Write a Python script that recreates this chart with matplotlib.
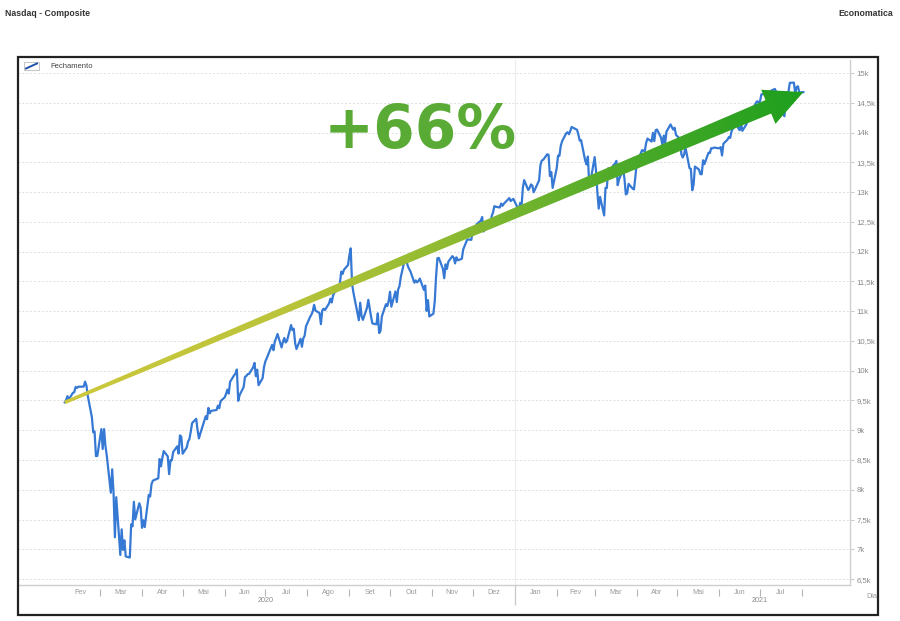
import numpy as np
import pandas as pd
import matplotlib
matplotlib.use("Agg")
import matplotlib.pyplot as plt
import matplotlib.dates as mdates
from matplotlib.colors import LinearSegmentedColormap
from matplotlib.patches import Polygon, Rectangle
from matplotlib.transforms import blended_transform_factory

# Nasdaq Composite - fechamento diario
pregoes_2020 = [
    "02-04", "02-05", "02-06", "02-07", "02-10", "02-11", "02-12", "02-13", "02-14", "02-18",
    "02-19", "02-20", "02-21", "02-24", "02-25", "02-26", "02-27", "02-28",
    "03-02", "03-03", "03-04", "03-05", "03-06", "03-09", "03-10", "03-11", "03-12", "03-13",
    "03-16", "03-17", "03-18", "03-19", "03-20", "03-23", "03-24", "03-25", "03-26", "03-27",
    "03-30", "03-31",
    "04-01", "04-02", "04-03", "04-06", "04-07", "04-08", "04-09", "04-13", "04-14", "04-15",
    "04-16", "04-17", "04-20", "04-21", "04-22", "04-23", "04-24", "04-27", "04-28", "04-29",
    "04-30",
    "05-01", "05-04", "05-05", "05-06", "05-07", "05-08", "05-11", "05-12", "05-13", "05-14",
    "05-15", "05-18", "05-19", "05-20", "05-21", "05-22", "05-26", "05-27", "05-28", "05-29",
    "06-01", "06-02", "06-03", "06-04", "06-05", "06-08", "06-09", "06-10", "06-11", "06-12",
    "06-15", "06-16", "06-17", "06-18", "06-19", "06-22", "06-23", "06-24", "06-25", "06-26",
    "06-29", "06-30",
    "07-01", "07-02", "07-06", "07-07", "07-08", "07-09", "07-10", "07-13", "07-14", "07-15",
    "07-16", "07-17", "07-20", "07-21", "07-22", "07-23", "07-24", "07-27", "07-28", "07-29",
    "07-30", "07-31",
    "08-03", "08-04", "08-05", "08-06", "08-07", "08-10", "08-11", "08-12", "08-13", "08-14",
    "08-17", "08-18", "08-19", "08-20", "08-21", "08-24", "08-25", "08-26", "08-27", "08-28",
    "08-31",
    "09-01", "09-02", "09-03", "09-04", "09-08", "09-09", "09-10", "09-11", "09-14", "09-15",
    "09-16", "09-17", "09-18", "09-21", "09-22", "09-23", "09-24", "09-25", "09-28", "09-29",
    "09-30",
    "10-01", "10-02", "10-05", "10-06", "10-07", "10-08", "10-09", "10-12", "10-13", "10-14",
    "10-15", "10-16", "10-19", "10-20", "10-21", "10-22", "10-23", "10-26", "10-27", "10-28",
    "10-29", "10-30",
    "11-02", "11-03", "11-04", "11-05", "11-06", "11-09", "11-10", "11-11", "11-12", "11-13",
    "11-16", "11-17", "11-18", "11-19", "11-20", "11-23", "11-24", "11-25", "11-27", "11-30",
    "12-01", "12-02", "12-03", "12-04", "12-07", "12-08", "12-09", "12-10", "12-11", "12-14",
    "12-15", "12-16", "12-17", "12-18", "12-21", "12-22", "12-23", "12-24", "12-28", "12-29",
    "12-30", "12-31",
]
fech_2020 = [
    9467, 9509, 9572, 9520, 9628, 9639, 9726, 9712, 9731, 9733,
    9817, 9751, 9577, 9221, 8966, 8981, 8566, 8567,
    9019, 8685, 9019, 8738, 8576, 7950, 8344, 7953, 7201, 7875,
    6905, 7335, 6990, 7151, 6880, 6861, 7418, 7385, 7798, 7502,
    7774, 7700,
    7361, 7487, 7373, 7913, 7887, 8091, 8153, 8193, 8516, 8393,
    8533, 8650, 8561, 8263, 8495, 8495, 8634, 8730, 8608, 8914,
    8890,
    8605, 8710, 8810, 8854, 8980, 9121, 9192, 9002, 8863, 8944,
    9015, 9235, 9185, 9375, 9285, 9325, 9340, 9413, 9369, 9490,
    9552, 9609, 9683, 9616, 9814, 9925, 9953, 10020, 9493, 9589,
    9726, 9896, 9911, 9943, 9946, 10056, 10131, 9909, 10017, 9757,
    9875, 10059,
    10155, 10208, 10434, 10344, 10492, 10548, 10617, 10391, 10488, 10550,
    10474, 10503, 10767, 10681, 10706, 10462, 10364, 10537, 10402, 10543,
    10588, 10745,
    10903, 10941, 10998, 11108, 11011, 10968, 10782, 11012, 11042, 11019,
    11129, 11210, 11147, 11265, 11312, 11380, 11466, 11665, 11625, 11696,
    11775,
    11939, 12056, 11458, 11313, 10848, 11142, 10920, 10854, 11056, 11191,
    11050, 10910, 10794, 10779, 10964, 10633, 10672, 10914, 11118, 11086,
    11168,
    11326, 11076, 11332, 11154, 11365, 11421, 11580, 11876, 11863, 11768,
    11714, 11672, 11479, 11517, 11485, 11506, 11548, 11358, 11431, 11005,
    11186, 10912,
    10958, 11161, 11590, 11890, 11895, 11714, 11554, 11787, 11710, 11830,
    11925, 11900, 11802, 11905, 11855, 11881, 12037, 12094, 12206, 12199,
    12355, 12349, 12377, 12464, 12520, 12583, 12339, 12406, 12378, 12441,
    12595, 12658, 12765, 12756, 12742, 12808, 12771, 12805, 12900, 12851,
    12870, 12888,
]
pregoes_2021 = [
    "01-04", "01-05", "01-06", "01-07", "01-08", "01-11", "01-12", "01-13", "01-14", "01-15",
    "01-19", "01-20", "01-21", "01-22", "01-25", "01-26", "01-27", "01-28", "01-29",
    "02-01", "02-02", "02-03", "02-04", "02-05", "02-08", "02-09", "02-10", "02-11", "02-12",
    "02-16", "02-17", "02-18", "02-19", "02-22", "02-23", "02-24", "02-25", "02-26",
    "03-01", "03-02", "03-03", "03-04", "03-05", "03-08", "03-09", "03-10", "03-11", "03-12",
    "03-15", "03-16", "03-17", "03-18", "03-19", "03-22", "03-23", "03-24", "03-25", "03-26",
    "03-29", "03-30", "03-31",
    "04-01", "04-05", "04-06", "04-07", "04-08", "04-09", "04-12", "04-13", "04-14", "04-15",
    "04-16", "04-19", "04-20", "04-21", "04-22", "04-23", "04-26", "04-27", "04-28", "04-29",
    "04-30",
    "05-03", "05-04", "05-05", "05-06", "05-07", "05-10", "05-11", "05-12", "05-13", "05-14",
    "05-17", "05-18", "05-19", "05-20", "05-21", "05-24", "05-25", "05-26", "05-27", "05-28",
    "06-01", "06-02", "06-03", "06-04", "06-07", "06-08", "06-09", "06-10", "06-11", "06-14",
    "06-15", "06-16", "06-17", "06-18", "06-21", "06-22", "06-23", "06-24", "06-25", "06-28",
    "06-29", "06-30",
    "07-01", "07-02", "07-06", "07-07", "07-08", "07-09", "07-12", "07-13", "07-14", "07-15",
    "07-16", "07-19", "07-20", "07-21", "07-22", "07-23", "07-26", "07-27", "07-28", "07-29",
    "07-30", "08-02",
]
fech_2021 = [
    12698, 12819, 12741, 13067, 13202, 13036, 13072, 13129, 13112, 12999,
    13197, 13457, 13530, 13543, 13636, 13626, 13271, 13337, 13071,
    13403, 13612, 13610, 13778, 13856, 13988, 14007, 13973, 14026, 14095,
    14047, 13966, 13865, 13874, 13533, 13465, 13598, 13119, 13192,
    13589, 13359, 12998, 12723, 12920, 12609, 13073, 13069, 13399, 13320,
    13460, 13472, 13525, 13117, 13215, 13378, 13228, 12962, 12978, 13139,
    13060, 13046, 13247,
    13480, 13706, 13698, 13688, 13829, 13900, 13850, 13996, 13858, 14039,
    14052, 13915, 13787, 13951, 13818, 14017, 14138, 14091, 14051, 14082,
    13962,
    13895, 13634, 13582, 13633, 13752, 13402, 13389, 13032, 13125, 13430,
    13379, 13303, 13300, 13536, 13471, 13662, 13657, 13738, 13736, 13749,
    13736, 13756, 13615, 13814, 13881, 13925, 13912, 14020, 14069, 14175,
    14073, 14040, 14162, 14030, 14141, 14254, 14272, 14370, 14360, 14500,
    14528, 14504,
    14523, 14640, 14663, 14665, 14560, 14701, 14734, 14678, 14645, 14544,
    14428, 14275, 14499, 14632, 14685, 14837, 14840, 14660, 14763, 14779,
    14673, 14681,
]

meses = ["Jan", "Fev", "Mar", "Abr", "Mai", "Jun", "Jul", "Ago", "Set", "Out", "Nov", "Dez"]
anos = ["2020", "2021"]
yticks = np.arange(6500, 15001, 500)
variacao = "+66%"

datas = pd.to_datetime(["2020-" + d for d in pregoes_2020] + ["2021-" + d for d in pregoes_2021])
fech = np.array(fech_2020 + fech_2021, dtype=float)

plt.rcParams['font.family'] = ['Liberation Sans', 'DejaVu Sans']

fig = plt.figure(figsize=(9, 6.21), dpi=100)
ax = fig.add_axes([18/900, 36/621, 832/900, 525/621])

ax.plot(datas, fech, color="#3679d4", lw=1.6, zorder=3)
ax.set_xlim(pd.Timestamp("2019-12-31 12:00"), pd.Timestamp("2021-09-05 10:00"))
ax.set_ylim(6400, 15220)

# eixo y a direita
ax.yaxis.tick_right()
ax.set_yticks(yticks)
ax.set_yticklabels([("%gk" % (v/1000)).replace(".", ",") for v in yticks])
ax.tick_params(axis='y', length=3, color="#cccccc", labelsize=5.6, labelcolor="#8a8a8a", pad=1.5)
ax.yaxis.grid(True, color="#dedede", ls=(0, (2, 2)), lw=0.7)
ax.set_xticks([])
for s in ["top", "left"]:
    ax.spines[s].set_visible(False)
for s in ["right", "bottom"]:
    ax.spines[s].set_color("#cfcfcf")
    ax.spines[s].set_linewidth(1)

# eixo x: meses
trans = blended_transform_factory(ax.transData, ax.transAxes)
inicios = pd.date_range("2020-02-01", "2021-08-01", freq="MS")
for a, b in zip(inicios[:-1], inicios[1:]):
    meio = a + (b - a) / 2
    ax.text(meio, -7/525, meses[a.month - 1], transform=trans, ha="center", va="center",
            fontsize=5.2, color="#9a9a9a")
for m in inicios[1:]:
    if m == pd.Timestamp("2021-01-01"):
        ax.vlines(m, -20/525, 0, transform=trans, clip_on=False, color="#c8c8c8", lw=0.9)
    else:
        ax.vlines(m, -11/525, -4/525, transform=trans, clip_on=False, color="#b5b5b5", lw=0.8)
ax.axvline(pd.Timestamp("2021-01-01"), color="#ececec", lw=0.8, zorder=1)
for ano in anos:
    ax.text(pd.Timestamp(ano + "-07-01"), -15/525, ano, transform=trans, ha="center",
            va="center", fontsize=5.2, color="#8a8a8a")

# textos externos
fig.text(5/900, 1 - 14/621, "Nasdaq - Composite", fontsize=6.3, fontweight="bold",
         color="#333333", ha="left", va="center")
fig.text(893/900, 1 - 14/621, "Economatica", fontsize=6.3, fontweight="bold",
         color="#333333", ha="right", va="center")
fig.text(872/900, 1 - 597/621, "Dia", fontsize=5.2, color="#9a9a9a", ha="center", va="center")

# camada de sobreposicao em pixels
ov = fig.add_axes([0, 0, 1, 1], zorder=5)
ov.patch.set_alpha(0)
ov.axis("off")

ov.add_patch(Rectangle((18, 6), 860, 558, fill=False, ec="#222222", lw=1.6))

# legenda
ov.add_patch(Rectangle((24, 551), 15, 8, fill=False, ec="#bbbbbb", lw=0.6))
ov.plot([26, 37], [552.5, 557.5], color="#2050a8", lw=1.4)
ov.text(50, 554.5, "Fechamento", fontsize=5.5, color="#444444", ha="left", va="center")

# seta do primeiro ao ultimo fechamento
S = ax.transData.transform((mdates.date2num(datas[0]), fech[0]))
T = ax.transData.transform((mdates.date2num(datas[-1]), fech[-1]))
comp = np.linalg.norm(T - S)
u = (T - S) / comp
n = np.array([-u[1], u[0]])
B = T - 38*u
pts = [S + 1.7*n, B + 7.3*n, B + 18.5*n, T, B - 18.5*n, B - 7.3*n, S - 1.7*n]
seta = Polygon(pts, closed=True, facecolor="none", edgecolor="none")
ov.add_patch(seta)
xx, yy = np.meshgrid(np.linspace(0, 900, 901), np.linspace(0, 621, 622))
t = ((xx - S[0])*u[0] + (yy - S[1])*u[1]) / comp
cmap = LinearSegmentedColormap.from_list(
    "seta", [(0, "#cdc83c"), (0.3, "#bac43a"), (0.5, "#93bc32"), (0.75, "#4fab29"), (1, "#1e9f1e")])
im = ov.imshow(np.clip(t, 0, 1), cmap=cmap, vmin=0, vmax=1, extent=(0, 900, 0, 621),
               origin="lower", aspect="auto", zorder=4)
im.set_clip_path(seta)

ov.text(420, 473, variacao, fontsize=43, fontweight="bold", color="#5aab35",
        ha="center", va="baseline", family="DejaVu Sans", zorder=6)

ov.set_xlim(0, 900)
ov.set_ylim(0, 621)

fig.savefig("out.png", dpi=100)
